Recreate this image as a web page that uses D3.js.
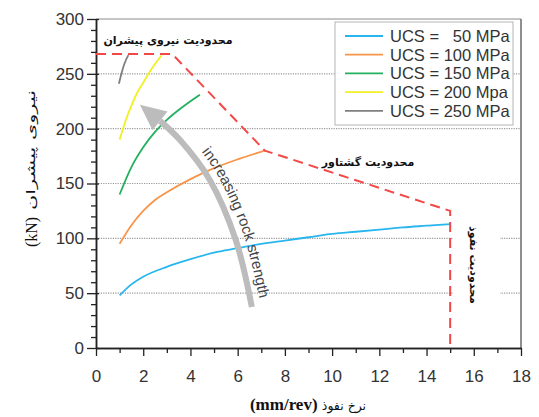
<!DOCTYPE html>
<html>
<head>
<meta charset="utf-8">
<script src="https://cdn.jsdelivr.net/npm/d3@7"></script>
<style>
  html, body { margin: 0; padding: 0; background: #fff; }
  svg { display: block; }
  text { white-space: pre; }
</style>
</head>
<body>
<div id="chart"></div>
<script>
// Penetration rate vs. thrust for several rock strengths (UCS)
const xTicks = [0, 2, 4, 6, 8, 10, 12, 14, 16, 18];
const yTicks = [0, 50, 100, 150, 200, 250, 300];
const gridValues = [50, 100, 150, 200, 250];

const seriesNames = ["UCS =   50 MPa", "UCS = 100 MPa", "UCS = 150 MPa", "UCS = 200 Mpa", "UCS = 250 MPa"];
const seriesColors = ["#29b6ee", "#f7954a", "#23b15e", "#f2ef22", "#7f7f7f"];

const ucs50X = [1, 1.5, 2, 3, 4, 5, 6, 7, 8, 9, 10, 11, 12, 13, 14, 15];
const ucs50Y = [48, 58, 65, 74, 81, 87, 91, 95, 98, 101, 104, 106, 108, 110, 111.5, 113];
const ucs100X = [1, 1.5, 2, 2.5, 3, 4, 5, 6, 7.15];
const ucs100Y = [95, 112, 125, 135, 142, 154, 164, 172, 180];
const ucs150X = [1, 1.5, 2, 2.5, 3, 3.5, 4, 4.4];
const ucs150Y = [140, 165, 183, 197, 208, 217, 225, 231];
const ucs200X = [1, 1.25, 1.5, 1.75, 2, 2.25, 2.5, 2.78];
const ucs200Y = [190, 207, 221, 233, 242, 251, 259, 267];
const ucs250X = [0.97, 1.1, 1.2, 1.37];
const ucs250Y = [241, 252, 259, 267];

// machine limits: thrust, torque, penetration
const limitX = [0, 3.23, 7.15, 15, 15];
const limitY = [268, 268, 180, 125, 0];

// "increasing rock strength" arrow
const arrowX = [6.60, 5.92, 4.82, 3.55, 2.71];
const arrowY = [37.4, 98.5, 153.3, 189.8, 207.1];
const arrowTip = [1.86, 221.7];

const W = 539, H = 417;
const x = d3.scaleLinear().domain([0, 18]).range([96, 521]);
const y = d3.scaleLinear().domain([0, 300]).range([348, 19]);

const svg = d3.select("#chart").append("svg")
  .attr("width", W).attr("height", H)
  .attr("viewBox", `0 0 ${W} ${H}`);

svg.append("rect").attr("width", W).attr("height", H).attr("fill", "#fff");

// dotted grid
svg.append("g").selectAll("line").data(gridValues).join("line")
  .attr("x1", x(0)).attr("x2", x(18))
  .attr("y1", d => y(d)).attr("y2", d => y(d))
  .attr("stroke", "#9a9a9a").attr("stroke-width", 1.2)
  .attr("stroke-dasharray", "1.2,1.2");

// frame top/right
svg.append("line").attr("x1", x(0)).attr("x2", x(18)).attr("y1", y(300)).attr("y2", y(300))
  .attr("stroke", "#8a8a8a").attr("stroke-width", 1);
svg.append("line").attr("x1", x(18)).attr("x2", x(18)).attr("y1", y(300)).attr("y2", y(0))
  .attr("stroke", "#6a6a6a").attr("stroke-width", 1.5);

// white patch behind the vertical penetration label
svg.append("rect").attr("x", 453).attr("y", 215).attr("width", 47).attr("height", 100).attr("fill", "#fff");

// axes
const xAxis = d3.axisBottom(x).tickValues(xTicks).tickSize(8).tickSizeOuter(0).tickPadding(14);
const xMinor = d3.axisBottom(x).tickValues(d3.range(1, 18, 2)).tickSize(5).tickFormat("").tickSizeOuter(0);
const yAxis = d3.axisLeft(y).tickValues(yTicks).tickSize(9).tickSizeOuter(0).tickPadding(3);
const yMinor = d3.axisLeft(y).tickValues(d3.range(10, 300, 10).filter(v => v % 50 !== 0)).tickSize(5).tickFormat("").tickSizeOuter(0);

function styleAxis(g) {
  g.select(".domain").attr("stroke", "#222").attr("stroke-width", 1.5);
  g.selectAll(".tick line").attr("stroke", "#222").attr("stroke-width", 1.3);
  g.selectAll(".tick text").attr("fill", "#333")
    .style("font-family", "'Liberation Sans', Arial, sans-serif").style("font-size", "17px");
}
svg.append("g").attr("transform", `translate(0,${y(0)})`).call(xMinor).call(styleAxis);
svg.append("g").attr("transform", `translate(0,${y(0)})`).call(xAxis).call(styleAxis);
svg.append("g").attr("transform", `translate(${x(0)},0)`).call(yMinor).call(styleAxis);
const gy = svg.append("g").attr("transform", `translate(${x(0)},0)`).call(yAxis).call(styleAxis);
gy.selectAll(".tick line").attr("x2", 3).attr("x1", -9);

// series curves
const line = d3.line().x(d => x(d[0])).y(d => y(d[1])).curve(d3.curveMonotoneX);
const seriesX = [ucs50X, ucs100X, ucs150X, ucs200X, ucs250X];
const seriesY = [ucs50Y, ucs100Y, ucs150Y, ucs200Y, ucs250Y];
seriesX.forEach((xs, i) => {
  const pts = xs.map((v, j) => [v, seriesY[i][j]]);
  svg.append("path").attr("d", line(pts))
    .attr("fill", "none").attr("stroke", seriesColors[i]).attr("stroke-width", 1.8);
});

// limit envelope
const limitPts = limitX.map((v, j) => [v, limitY[j]]);
svg.append("path").attr("d", d3.line().x(d => x(d[0])).y(d => y(d[1]))(limitPts))
  .attr("fill", "none").attr("stroke", "#f24848").attr("stroke-width", 2)
  .attr("stroke-dasharray", "10,6");

// arrow
const arrowPts = arrowX.map((v, j) => [v, arrowY[j]]);
const shaft = svg.append("path")
  .attr("d", d3.line().x(d => x(d[0])).y(d => y(d[1])).curve(d3.curveCatmullRom)(arrowPts))
  .attr("fill", "none").attr("stroke", "#bcbcbc").attr("stroke-width", 6);
{
  const bx = x(arrowX[arrowX.length - 1]), by = y(arrowY[arrowY.length - 1]);
  const tx = x(arrowTip[0]), ty = y(arrowTip[1]);
  let dx = tx - bx, dy = ty - by;
  const len = Math.hypot(dx, dy); dx /= len; dy /= len;
  const hw = 12;
  const p1 = [bx - dy * hw, by + dx * hw], p2 = [bx + dy * hw, by - dx * hw];
  svg.append("path").attr("d", `M${tx},${ty}L${p1[0]},${p1[1]}L${p2[0]},${p2[1]}Z`).attr("fill", "#bcbcbc");
}
// text path parallel to the shaft (running downward, on its right side)
{
  const node = shaft.node();
  const L = node.getTotalLength();
  const N = 60, off = 9;
  const pts = [];
  for (let i = 0; i <= N; i++) {
    const l = L * i / N;
    const p = node.getPointAtLength(l);
    const q = node.getPointAtLength(Math.min(L, l + 0.5));
    const r = node.getPointAtLength(Math.max(0, l - 0.5));
    let tx = q.x - r.x, ty = q.y - r.y;
    const n = Math.hypot(tx, ty) || 1; tx /= n; ty /= n;
    pts.push([p.x - ty * off, p.y + tx * off]);
  }
  pts.reverse();
  svg.append("path").attr("id", "rockPath").attr("fill", "none").attr("stroke", "none")
    .attr("d", "M" + pts.map(p => p.join(",")).join("L"));
  svg.append("text")
    .style("font-family", "'Liberation Sans', Arial, sans-serif").style("font-size", "15px")
    .attr("fill", "#444")
    .append("textPath").attr("href", "#rockPath").attr("startOffset", 52)
    .text("increasing rock strength");
}

// legend
const lg = svg.append("g");
lg.append("rect").attr("x", 335).attr("y", 22).attr("width", 178).attr("height", 103)
  .attr("fill", "#fff").attr("stroke", "#b5b5b5").attr("stroke-width", 1);
seriesNames.forEach((name, i) => {
  const yy = 36 + i * 18.7;
  lg.append("line").attr("x1", 345).attr("x2", 383).attr("y1", yy).attr("y2", yy)
    .attr("stroke", seriesColors[i]).attr("stroke-width", 1.8);
  lg.append("text").attr("x", 390).attr("y", yy).attr("dy", "0.36em")
    .style("font-family", "'Liberation Sans', Arial, sans-serif").style("font-size", "16.5px")
    .attr("fill", "#333").text(name);
});

// limit annotations (Persian)
const faFont = "'DejaVu Sans', sans-serif";
svg.append("text").attr("x", 168).attr("y", 40).attr("text-anchor", "middle").attr("dy", "0.35em")
  .style("font-family", faFont).style("font-size", "11px").style("font-weight", "bold")
  .attr("fill", "#111").text("محدودیت نیروی پیشران");
svg.append("text").attr("x", 368).attr("y", 162).attr("text-anchor", "middle").attr("dy", "0.35em")
  .style("font-family", faFont).style("font-size", "11px").style("font-weight", "bold")
  .attr("fill", "#111").text("محدودیت گشتاور");
svg.append("text").attr("transform", "translate(474,265) rotate(90)").attr("text-anchor", "middle").attr("dy", "0.35em")
  .style("font-family", faFont).style("font-size", "11px").style("font-weight", "bold")
  .attr("fill", "#111").text("محدودیت نفوذ");

// axis titles
const yt = svg.append("g").attr("transform", "translate(31,0) rotate(-90)");
yt.append("text").attr("x", -232).attr("text-anchor", "middle").attr("dy", "0.35em")
  .style("font-family", "'Liberation Serif', serif").style("font-size", "16px").attr("fill", "#111")
  .text("(kN)");
yt.append("text").attr("x", -150).attr("text-anchor", "middle").attr("dy", "0.35em")
  .attr("textLength", 120).attr("lengthAdjust", "spacingAndGlyphs")
  .style("font-family", faFont).style("font-size", "12px").attr("fill", "#111")
  .text("نیروی پیشران");

const xt = svg.append("text").attr("transform", "translate(308,404)")
  .attr("text-anchor", "middle").attr("dy", "0.35em").attr("direction", "ltr").attr("fill", "#111");
xt.append("tspan").style("font-family", "'Liberation Serif', serif").style("font-size", "17px").style("font-weight", "bold").text("(mm/rev) ");
xt.append("tspan").style("font-family", faFont).style("font-size", "12.5px").text("نرخ نفوذ");
</script>
</body>
</html>
